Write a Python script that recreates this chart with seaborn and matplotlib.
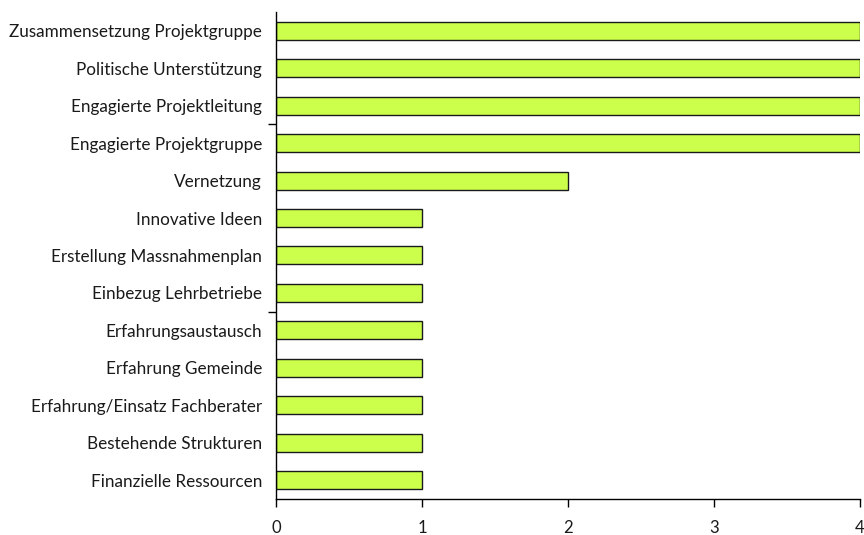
import matplotlib
matplotlib.use("Agg")
import matplotlib.pyplot as plt
import seaborn as sns
import pandas as pd

categories = [
    "Zusammensetzung Projektgruppe",
    "Politische Unterstützung",
    "Engagierte Projektleitung",
    "Engagierte Projektgruppe",
    "Vernetzung",
    "Innovative Ideen",
    "Erstellung Massnahmenplan",
    "Einbezug Lehrbetriebe",
    "Erfahrungsaustausch",
    "Erfahrung Gemeinde",
    "Erfahrung/Einsatz Fachberater",
    "Bestehende Strukturen",
    "Finanzielle Ressourcen",
]
counts = [4, 4, 4, 4, 2, 1, 1, 1, 1, 1, 1, 1, 1]
x_ticks = [0, 1, 2, 3, 4]

df = pd.DataFrame({"Faktor": categories, "Anzahl": counts})

sns.set_style("white")
plt.rcParams["font.family"] = ["Lato", "DejaVu Sans"]

fig = plt.figure(figsize=(8.64, 5.35), dpi=100)
ax = fig.add_axes([0.3194, 0.0673, 0.6759, 0.9103])

sns.barplot(data=df, x="Anzahl", y="Faktor", orient="h", color="#ccff4c",
            saturation=1, width=0.48, edgecolor="#1a1a1a", linewidth=1.0, ax=ax)

ax.set_xlim(0, 4)
ax.set_ylim(len(categories) - 0.5, -0.5)
ax.set_xticks(x_ticks)
ax.set_xticklabels([str(t) for t in x_ticks])
ax.set_xlabel("")
ax.set_ylabel("")

for side in ("top", "right"):
    ax.spines[side].set_visible(False)
for side in ("left", "bottom"):
    ax.spines[side].set_color("black")
    ax.spines[side].set_linewidth(1.0)

ax.tick_params(axis="x", direction="out", length=6, width=1, color="black",
               pad=9, labelsize=12, labelcolor="#1a1a1a", bottom=True)
ax.tick_params(axis="y", which="major", length=0, pad=10, labelsize=12.3,
               labelcolor="#1a1a1a")
ax.set_yticks([2.5, 7.5], minor=True)
ax.tick_params(axis="y", which="minor", direction="out", length=6, width=1,
               color="black", left=True)

fig.savefig("out.png", dpi=100)
